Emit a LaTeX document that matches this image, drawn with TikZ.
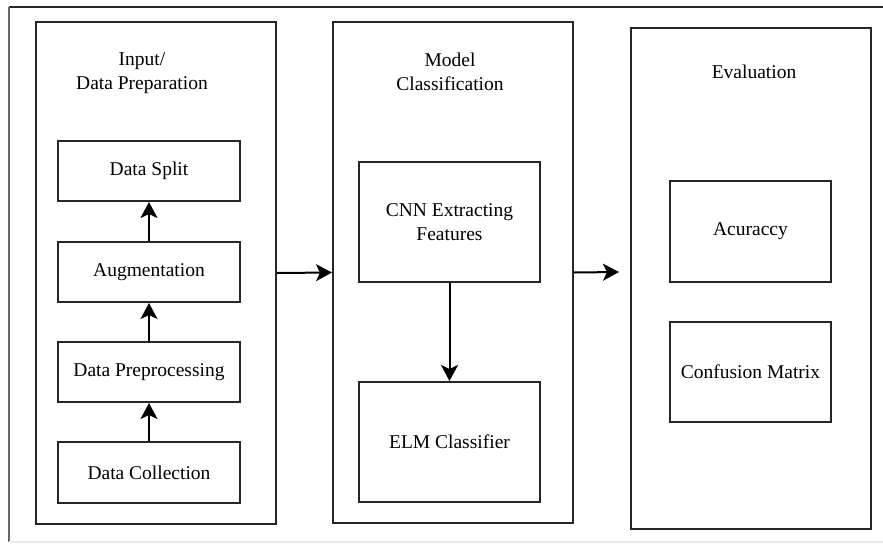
\documentclass[tikz,border=0pt]{standalone}
\usepackage{fontspec}
\setmainfont{Liberation Serif}
\usetikzlibrary{arrows.meta}
\begin{document}
\begin{tikzpicture}[x=1pt,y=-1pt,
  panel/.style={draw=black!85, line width=2pt, minimum width=240pt, anchor=north west, inner sep=0pt},
  stepbox/.style={draw=black!85, line width=2pt, inner sep=0pt, align=center, font=\fontsize{19.5}{23.5}\selectfont},
  title/.style={align=center, inner sep=0pt, font=\fontsize{19.5}{23.5}\selectfont},
  arr/.style={line width=2pt, draw=black, -{Stealth[length=16pt,width=17pt,inset=4pt]}}]
\useasboundingbox (0,0) rectangle (883,544);
\fill[white] (0,0) rectangle (883,544);
% outer frame
\coordinate (ftl) at (9,7);
\coordinate (ftr) at (883,7);
\coordinate (fbl) at (9,542);
\coordinate (fbr) at (883,542);
\draw[black!85, line width=2pt] (ftr) -- (ftl);
\draw[black!60, line width=1.5pt] (ftl) -- (fbl);
\draw[black!8, line width=2pt] (fbl) -- (fbr);
% panels
\node[panel, minimum height=502pt] (L) at (35,21) {};
\node[panel, minimum height=501pt] (M) at (332,21) {};
\node[panel, minimum height=501pt] (R) at (630,27) {};
% titles
\node[title] (tL) at (142,73) {Input/\\Data Preparation};
\node[title] (tM) at (450,72) {Model\\Classification};
\node[title] (tR) at (754,72) {Evaluation};
% left column
\node[stepbox, minimum width=182pt, minimum height=60pt] (ds) at (149,171) {Data Split};
\node[stepbox, minimum width=182pt, minimum height=60pt] (au) at (149,272) {Augmentation};
\node[stepbox, minimum width=182pt, minimum height=60pt] (dp) at (149,372) {Data Preprocessing};
\node[stepbox, minimum width=182pt, minimum height=61pt] (dc) at (149,472.5) {Data Collection};
\draw[arr] (dc) -- (dp);
\draw[arr] (dp) -- (au);
\draw[arr] (au) -- (ds);
% middle column
\node[stepbox, minimum width=181pt, minimum height=120pt] (cnn) at (449.5,222) {CNN Extracting\\Features};
\node[stepbox, minimum width=181pt, minimum height=120pt] (elm) at (449.5,442) {ELM Classifier};
\draw[arr] (cnn) -- (elm);
% right column
\node[stepbox, minimum width=161pt, minimum height=101pt] (acc) at (750.5,231.5) {Acuraccy};
\node[stepbox, minimum width=161pt, minimum height=100pt] (cm) at (750.5,372) {Confusion Matrix};
% panel connectors
\draw[arr] (L.east) -- (M.west);
\coordinate (e2) at (619,272);
\draw[arr] (M.east) -- (e2);
\end{tikzpicture}
\end{document}
